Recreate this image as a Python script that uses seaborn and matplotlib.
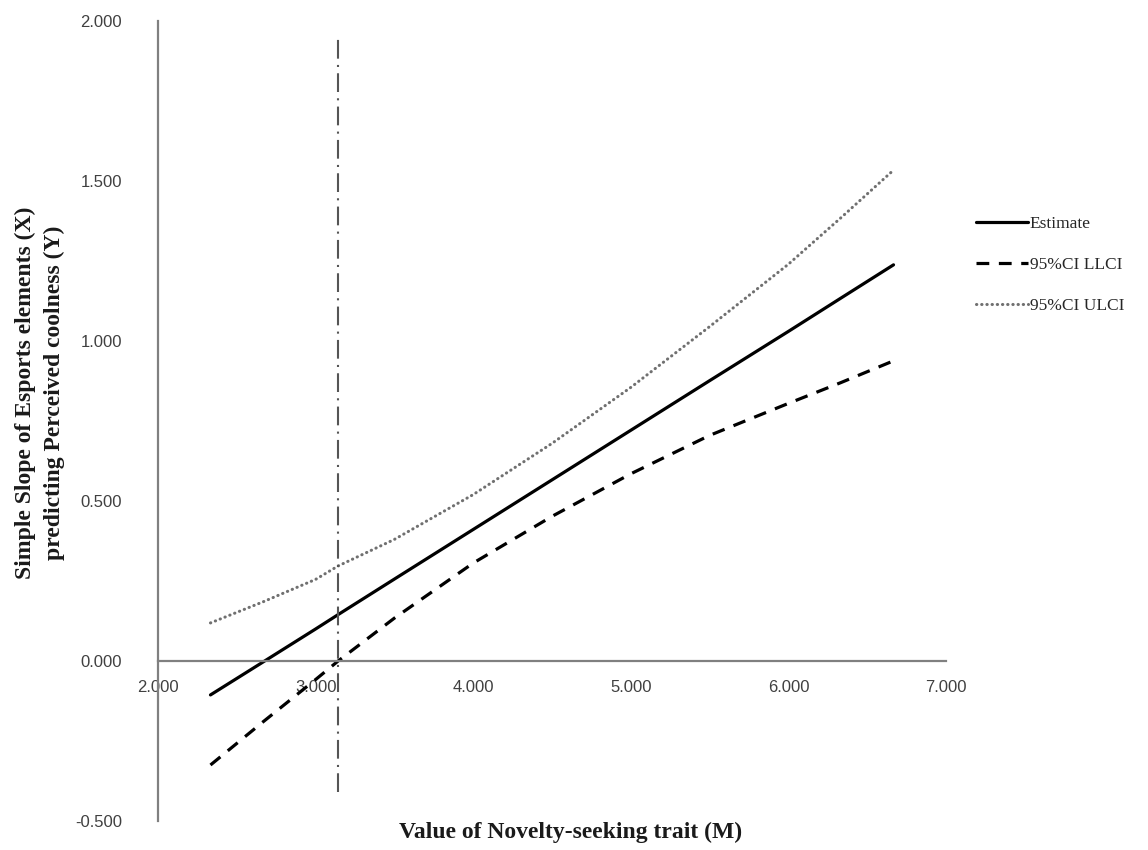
import matplotlib
matplotlib.use("Agg")
import matplotlib.pyplot as plt
import seaborn as sns
import pandas as pd

# values
novelty = [2.333, 2.667, 3.000, 3.143, 3.500, 4.000, 4.500, 5.000, 5.500, 6.000, 6.333, 6.667]
estimate = [-0.106, -0.003, 0.100, 0.145, 0.256, 0.411, 0.566, 0.721, 0.876, 1.030, 1.134, 1.238]
llci = [-0.325, -0.190, -0.058, 0.000, 0.134, 0.306, 0.452, 0.585, 0.705, 0.805, 0.870, 0.938]
ulci = [0.119, 0.185, 0.255, 0.297, 0.380, 0.520, 0.680, 0.855, 1.045, 1.240, 1.385, 1.534]
jn_point = 3.143
jn_span = [-0.41, 1.95]

x_ticks = [2.0, 3.0, 4.0, 5.0, 6.0, 7.0]
y_ticks = [-0.5, 0.0, 0.5, 1.0, 1.5, 2.0]

df = pd.DataFrame({"novelty": novelty, "estimate": estimate, "llci": llci, "ulci": ulci})

sns.set_theme(style="white")
plt.rcParams["font.family"] = ["Liberation Sans", "DejaVu Sans"]

fig = plt.figure(figsize=(11.48, 8.5), dpi=100)
ax = fig.add_axes([158 / 1148, 29 / 850, 788 / 1148, 800 / 850])

sns.lineplot(data=df, x="novelty", y="estimate", color="black", linewidth=2.3,
             ax=ax, label="Estimate")
sns.lineplot(data=df, x="novelty", y="llci", color="black", linewidth=2.3,
             linestyle=(0, (4, 3)), ax=ax, label="95%CI LLCI")
sns.lineplot(data=df, x="novelty", y="ulci", color="#707070", linewidth=2.2,
             linestyle=(0, (0.1, 1.6)), dash_capstyle="round", ax=ax, label="95%CI ULCI")

ax.plot([jn_point, jn_point], jn_span, color="#555555", linewidth=1.5,
        linestyle=(0, (9, 3, 1, 3)))

ax.set_xlim(2.0, 7.0)
ax.set_ylim(-0.5, 2.0)
ax.set_xticks(x_ticks)
ax.set_yticks(y_ticks)
ax.set_xticklabels([f"{t:.3f}" for t in x_ticks])
ax.set_yticklabels([f"{t:.3f}" for t in y_ticks])
ax.tick_params(axis="both", length=0, labelsize=12, labelcolor="#404040")
ax.tick_params(axis="x", pad=14)
ax.tick_params(axis="y", pad=26)

for s in ["top", "right"]:
    ax.spines[s].set_visible(False)
ax.spines["bottom"].set_position(("data", 0))
for s in ["left", "bottom"]:
    ax.spines[s].set_color("#808080")
    ax.spines[s].set_linewidth(1.6)

ax.set_xlabel("")
ax.set_ylabel("")
fig.text(571 / 1148, 1 - 832 / 850, "Value of Novelty-seeking trait (M)",
         family="Liberation Serif", weight="bold", fontsize=17,
         ha="center", va="center", color="#1a1a1a")
fig.text(40 / 1148, 1 - 393 / 850,
         "Simple Slope of Esports elements (X)\npredicting Perceived coolness (Y)",
         family="Liberation Serif", weight="bold", fontsize=17, rotation=90,
         ha="center", va="center", multialignment="center", linespacing=1.45,
         color="#1a1a1a")

ax.legend(loc="center left", bbox_to_anchor=(976 / 1148, 1 - 265 / 850),
          bbox_transform=fig.transFigure, frameon=False, handlelength=3.0,
          handletextpad=0.1, labelspacing=1.45, borderpad=0, borderaxespad=0,
          prop={"family": "Liberation Serif", "size": 12.5})

fig.savefig("out.png", dpi=100, facecolor="white")
